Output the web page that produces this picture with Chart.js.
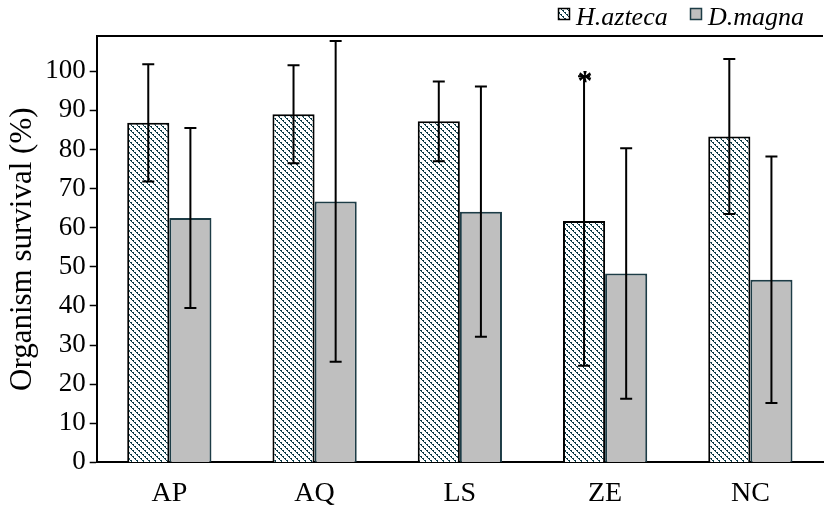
<!DOCTYPE html>
<html>
<head>
<meta charset="utf-8">
<script src="https://cdn.jsdelivr.net/npm/chart.js@4.4.1/dist/chart.umd.min.js"></script>
<style>
  html, body { margin: 0; padding: 0; background: #fff; }
  #wrap { width: 826px; height: 510px; }
</style>
</head>
<body>
<div id="wrap"><canvas id="survival"></canvas></div>
<script>
// data
const sites = ["AP", "AQ", "LS", "ZE", "NC"];
const aztecaMean = [86.8, 89.0, 87.2, 61.7, 83.3];
const aztecaErr = [15.0, 12.5, 10.2, 37.0, 19.8];
const magnaMean = [62.5, 66.7, 64.1, 48.3, 46.7];
const magnaErr = [23.0, 41.0, 32.0, 32.0, 31.5];
const marks = ["", "", "", "*", ""];
const yTicks = [0, 10, 20, 30, 40, 50, 60, 70, 80, 90, 100];

const serif = "'Liberation Serif', 'Times New Roman', serif";

// diagonal hatch for H. azteca
function makeHatch() {
  const c = document.createElement("canvas");
  c.width = 6;
  c.height = 6;
  const g = c.getContext("2d");
  g.fillStyle = "#ffffff";
  g.fillRect(0, 0, 6, 6);
  g.fillStyle = "#0b3a46";
  for (let i = 0; i < 6; i++) {
    g.fillRect(i, i, 1, 1);
    if (i % 2 === 0) g.fillRect((i + 1) % 6, i, 1, 1);
  }
  return g.createPattern(c, "repeat");
}
const hatch = makeHatch();

const errorBars = {
  id: "errorBars",
  afterDatasetsDraw(chart) {
    const ctx = chart.ctx;
    const y = chart.scales.y;
    const errs = [aztecaErr, magnaErr];
    const means = [aztecaMean, magnaMean];
    ctx.save();
    ctx.strokeStyle = "#000";
    ctx.lineWidth = 2;
    chart.data.datasets.forEach((ds, d) => {
      chart.getDatasetMeta(d).data.forEach((bar, i) => {
        const top = y.getPixelForValue(means[d][i] + errs[d][i]);
        const bot = y.getPixelForValue(means[d][i] - errs[d][i]);
        ctx.beginPath();
        ctx.moveTo(bar.x, top);
        ctx.lineTo(bar.x, bot);
        ctx.moveTo(bar.x - 6, top);
        ctx.lineTo(bar.x + 6, top);
        ctx.moveTo(bar.x - 6, bot);
        ctx.lineTo(bar.x + 6, bot);
        ctx.stroke();
        if (d === 0 && marks[i]) {
          ctx.fillStyle = "#000";
          ctx.font = "bold 30px " + serif;
          ctx.textAlign = "center";
          ctx.textBaseline = "middle";
          ctx.fillText(marks[i], bar.x + 1, top + 6);
        }
      });
    });
    // top frame line
    const a = chart.chartArea;
    ctx.lineWidth = 2;
    ctx.beginPath();
    ctx.moveTo(a.left, a.top);
    ctx.lineTo(a.right, a.top);
    ctx.stroke();
    ctx.restore();
  },
  afterDraw(chart) {
    // legend, top right
    const ctx = chart.ctx;
    const legendX = [558, 690];
    ctx.save();
    ctx.font = "italic 26px " + serif;
    ctx.textBaseline = "alphabetic";
    ctx.textAlign = "left";
    chart.data.datasets.forEach((ds, d) => {
      const x = legendX[d];
      ctx.fillStyle = ds.backgroundColor;
      ctx.fillRect(x, 8, 12, 12);
      ctx.strokeStyle = ds.borderColor;
      ctx.lineWidth = 1.5;
      ctx.strokeRect(x + 0.5, 8.5, 11, 11);
      ctx.fillStyle = "#000";
      ctx.fillText(ds.label, x + 18, 25);
    });
    ctx.restore();
  },
};

new Chart(document.getElementById("survival"), {
  type: "bar",
  data: {
    labels: sites,
    datasets: [
      {
        label: "H.azteca",
        data: aztecaMean,
        backgroundColor: hatch,
        borderColor: "#000",
        borderWidth: 2,
      },
      {
        label: "D.magna",
        data: magnaMean,
        backgroundColor: "#bfbfbf",
        borderColor: "#1d3c46",
        borderWidth: 2,
      },
    ],
  },
  options: {
    responsive: true,
    maintainAspectRatio: false,
    animation: false,
    layout: { padding: { left: 4, right: 3, top: 36, bottom: -14 } },
    datasets: { bar: { categoryPercentage: 0.58, barPercentage: 1.0 } },
    plugins: {
      tooltip: { enabled: false },
      legend: { display: false },
    },
    scales: {
      x: {
        grid: { display: false, drawTicks: false },
        border: { color: "#000", width: 2 },
        ticks: { color: "#000", padding: 14, font: { family: serif, size: 28 } },
      },
      y: {
        min: 0,
        max: 109,
        afterBuildTicks(axis) {
          axis.ticks = yTicks.map((v) => ({ value: v }));
        },
        grid: { drawOnChartArea: false, color: "#000", tickLength: 7, tickWidth: 1.5 },
        border: { color: "#000", width: 2 },
        ticks: { color: "#000", padding: 4, font: { family: serif, size: 27 } },
        title: {
          display: true,
          text: "Organism survival (%)",
          color: "#000",
          padding: 0,
          font: { family: serif, size: 31 },
        },
      },
    },
  },
  plugins: [errorBars],
});
</script>
</body>
</html>
